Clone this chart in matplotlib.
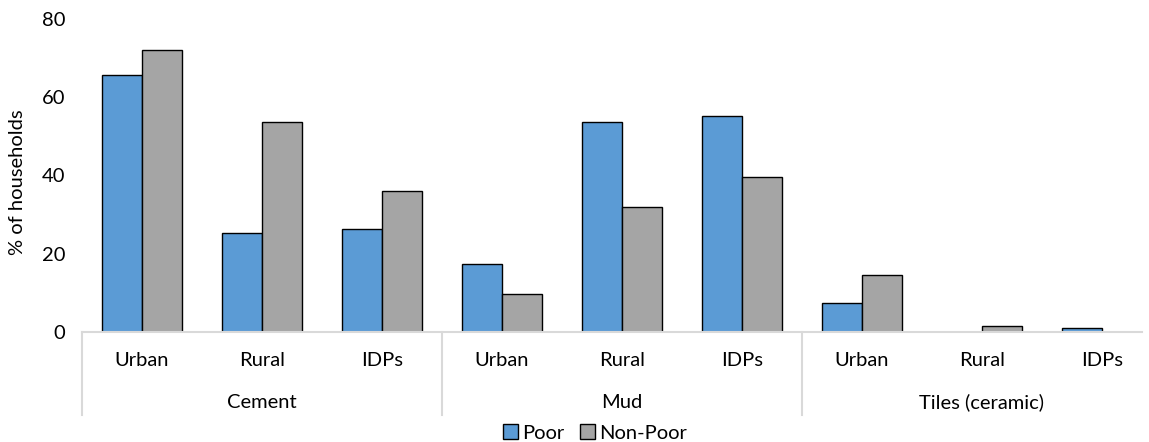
import numpy as np
import matplotlib.pyplot as plt
from matplotlib.patches import Patch

plt.rcParams['font.family'] = ['Lato', 'DejaVu Sans']

# Données
groups = ["Cement", "Mud", "Tiles (ceramic)"]
areas = ["Urban", "Rural", "IDPs"]
poor = [65.7, 25.3, 26.3, 17.4, 53.8, 55.2, 7.4, 0.1, 0.9]
non_poor = [72.1, 53.7, 36.0, 9.7, 32.0, 39.6, 14.6, 1.5, 0.0]

blue = "#5B9BD5"
grey = "#A5A5A5"
sep_color = "#D9D9D9"
fs = 14.5

fig = plt.figure(figsize=(11.49, 4.42), dpi=100)
ax = fig.add_axes([82 / 1149, 110 / 442, 1060 / 1149, 313 / 442])

x = np.arange(len(poor))
w = 0.333
ax.bar(x - w / 2, poor, w, color=blue, edgecolor="black", linewidth=1.0)
ax.bar(x + w / 2, non_poor, w, color=grey, edgecolor="black", linewidth=1.0)

ax.set_xlim(-0.5, 8.5 - 20 / 120)
ax.set_ylim(0, 80)
ax.set_yticks([0, 20, 40, 60, 80])
ax.tick_params(axis="y", length=0, labelsize=fs, pad=12)
ax.set_ylabel("% of households", fontsize=fs)
ax.yaxis.set_label_coords(-56 / 1060, 0.48)

for s in ["top", "right", "left"]:
    ax.spines[s].set_visible(False)
ax.spines["bottom"].set_color(sep_color)
ax.spines["bottom"].set_linewidth(1.5)

# Étiquettes des catégories
ax.set_xticks([])
trans = ax.get_xaxis_transform()
for i in range(len(poor)):
    ax.text(i, -29 / 313, areas[i % 3], transform=trans, ha="center", va="center", fontsize=fs)
for g, name in enumerate(groups):
    ax.text(g * 3 + 1, -70 / 313, name, transform=trans, ha="center", va="center", fontsize=fs)
for g in range(3):
    ax.plot([g * 3 - 0.5, g * 3 - 0.5], [0, -83 / 313], transform=trans,
            color=sep_color, linewidth=1.5, clip_on=False)

# Légende
handles = [Patch(facecolor=blue, edgecolor="black", label="Poor"),
           Patch(facecolor=grey, edgecolor="black", label="Non-Poor")]
fig.legend(handles=handles, loc="center", bbox_to_anchor=(595 / 1149, 1 - 433 / 442),
           ncol=2, frameon=False, fontsize=fs, handlelength=0.75, handleheight=0.75,
           handletextpad=0.2, columnspacing=0.8, borderpad=0)

plt.savefig("out.png", dpi=100)
